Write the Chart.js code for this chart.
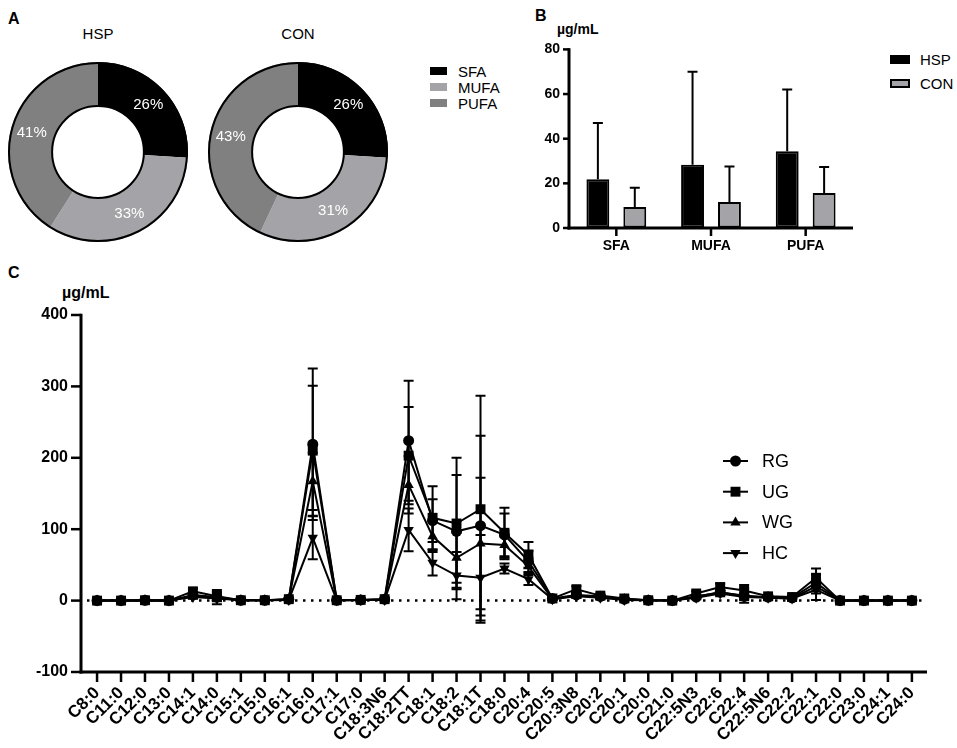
<!DOCTYPE html>
<html>
<head>
<meta charset="utf-8">
<script src="https://cdn.jsdelivr.net/npm/chart.js@4.4.1/dist/chart.umd.min.js"></script>
<style>
  body { margin: 0; background: #fff; width: 957px; height: 748px; position: relative; overflow: hidden;
         font-family: "Liberation Sans", Arial, sans-serif; color: #000; }
  .box { position: absolute; }
  .txt { position: absolute; white-space: nowrap; line-height: 1; }
  .letter { font-weight: bold; font-size: 16px; }
  .unit { font-weight: bold; }
  .sw { position: absolute; box-sizing: border-box; }
</style>
</head>
<body>
<div class="txt letter" style="left:8px;top:11px">A</div>
<div class="txt letter" style="left:535px;top:8px">B</div>
<div class="txt letter" style="left:8px;top:265px">C</div>

<div class="txt" id="titleHsp" style="left:58px;top:26px;width:80px;text-align:center;font-size:15px"></div>
<div class="txt" id="titleCon" style="left:258px;top:26px;width:80px;text-align:center;font-size:15px"></div>
<div id="legendA"></div>
<div id="legendB"></div>

<div class="txt unit" style="left:557px;top:22px;font-size:14px">µg/mL</div>
<div class="txt unit" style="left:62px;top:285px;font-size:16px">µg/mL</div>

<div class="box" style="left:7px;top:61px"><canvas id="pieHsp" width="182" height="182"></canvas></div>
<div class="box" style="left:207px;top:61px"><canvas id="pieCon" width="182" height="182"></canvas></div>
<div class="box" style="left:480px;top:38px"><canvas id="barChart" width="400" height="222"></canvas></div>
<div class="box" style="left:0px;top:300px"><canvas id="lineChart" width="957" height="448"></canvas></div>

<script>
// ---- panel A: composition (%)
const pieGroups = ['HSP', 'CON'];
const pieCategories = ['SFA', 'MUFA', 'PUFA'];
const hspShare = [26, 33, 41];
const conShare = [26, 31, 43];

// ---- panel B: totals (µg/mL), mean and SD
const barCategories = ['SFA', 'MUFA', 'PUFA'];
const barGroups = ['HSP', 'CON'];
const hspMean = [21.8, 28.3, 34.4];
const hspSd = [25.2, 41.7, 27.6];
const conMean = [9.4, 11.6, 15.7];
const conSd = [8.6, 15.9, 11.6];

// ---- panel C: individual fatty acids (µg/mL)
const fattyAcids = ['C8:0', 'C11:0', 'C12:0', 'C13:0', 'C14:1', 'C14:0', 'C15:1', 'C15:0', 'C16:1', 'C16:0',
  'C17:1', 'C17:0', 'C18:3N6', 'C18:2TT', 'C18:1', 'C18:2', 'C18:1T', 'C18:0', 'C20:4', 'C20:5',
  'C20:3N8', 'C20:2', 'C20:1', 'C20:0', 'C21:0', 'C22:5N3', 'C22:6', 'C22:4', 'C22:5N6', 'C22:2',
  'C22:1', 'C22:0', 'C23:0', 'C24:1', 'C24:0'];
const lineGroups = ['RG', 'UG', 'WG', 'HC'];
const rgMean = [0, 0, 0.5, 0, 8, 5, 0.5, 0.5, 2, 219, 0.5, 1, 2, 224, 112, 97, 105, 92, 55, 3,
  8, 6, 2, 0.5, 0, 5, 12, 6, 5, 4, 25, 0, 0, 0, 0];
const ugMean = [0, 0, 0.5, 0, 13, 6, 0.5, 0.5, 2, 210, 0.5, 1, 2, 203, 116, 108, 128, 95, 64, 3,
  16, 7, 3, 0.5, 0, 10, 19, 14, 6, 5, 32, 0, 0, 0, 0];
const wgMean = [0, 0, 0.5, 0, 6, 4, 0.5, 0.5, 1.5, 167, 0.5, 1, 1.5, 162, 90, 60, 80, 78, 48, 2,
  7, 5, 2, 0.5, 0, 6, 11, 7, 4, 3, 20, 0, 0, 0, 0];
const hcMean = [0, 0, 0.5, 0, 5, 3, 0.5, 0.5, 1, 88, 0.5, 1, 1, 99, 53, 35, 32, 45, 30, 2,
  6, 4, 1, 0.5, 0, 4, 10, 5, 4, 3, 15, 0, 0, 0, 0];
const rgSd = [0.5, 0.5, 0.5, 0.5, 3, 10, 0.5, 0.5, 1, 106, 0.5, 1, 1, 84, 30, 79, 126, 30, 15, 1,
  3, 2, 1, 0.5, 0.5, 2, 4, 4, 2, 2, 12, 0.5, 0.5, 0.5, 0.5];
const ugSd = [0.5, 0.5, 0.5, 0.5, 4, 6, 0.5, 0.5, 1, 91, 0.5, 1, 1, 68, 44, 92, 159, 35, 18, 1,
  4, 3, 1, 0.5, 0.5, 3, 5, 8, 2, 2, 13, 0.5, 0.5, 0.5, 0.5];
const wgSd = [0.5, 0.5, 0.5, 0.5, 3, 5, 0.5, 0.5, 1, 40, 0.5, 1, 1, 40, 22, 35, 92, 20, 12, 1,
  3, 2, 1, 0.5, 0.5, 2, 4, 10, 2, 2, 10, 0.5, 0.5, 0.5, 0.5];
const hcSd = [0.5, 0.5, 0.5, 0.5, 2, 3, 0.5, 0.5, 1, 30, 0.5, 1, 1, 30, 18, 33, 60, 7, 8, 1,
  2, 2, 1, 0.5, 0.5, 2, 4, 4, 2, 2, 14, 0.5, 0.5, 0.5, 0.5];

const FONT = '"Liberation Sans", Arial, sans-serif';
const pieColors = ['#000000', '#a4a4a8', '#808080'];
const barColors = ['#000000', '#a4a4a8'];

// small legends and titles as html text
document.getElementById('titleHsp').textContent = pieGroups[0];
document.getElementById('titleCon').textContent = pieGroups[1];

const legA = document.getElementById('legendA');
pieCategories.forEach((name, i) => {
  const top = 67 + i * 16;
  legA.innerHTML += `<div class="sw" style="left:430px;top:${top}px;width:17px;height:8px;background:${pieColors[i]}"></div>` +
    `<div class="txt" style="left:458px;top:${top - 3}px;font-size:15px">${name}</div>`;
});
const legB = document.getElementById('legendB');
barGroups.forEach((name, i) => {
  const top = 55 + i * 24;
  legB.innerHTML += `<div class="sw" style="left:890px;top:${top}px;width:20px;height:9px;background:${barColors[i]};border:2px solid #000"></div>` +
    `<div class="txt" style="left:920px;top:${top - 3}px;font-size:15px">${name}</div>`;
});

// ---- plugins
// percent labels plus the black outer / inner rim of the donut
const sliceLabels = {
  id: 'sliceLabels',
  afterDatasetsDraw(chart) {
    const ctx = chart.ctx;
    const ds = chart.data.datasets[0];
    const total = ds.data.reduce((a, b) => a + b, 0);
    const arcs = chart.getDatasetMeta(0).data;
    ctx.save();
    const p0 = arcs[0].getProps(['x', 'y', 'innerRadius', 'outerRadius']);
    ctx.strokeStyle = '#000';
    ctx.lineWidth = 2;
    ctx.beginPath();
    ctx.arc(p0.x, p0.y, p0.outerRadius - 1, 0, Math.PI * 2);
    ctx.stroke();
    ctx.beginPath();
    ctx.arc(p0.x, p0.y, p0.innerRadius, 0, Math.PI * 2);
    ctx.stroke();
    ctx.fillStyle = '#fff';
    ctx.font = '15px ' + FONT;
    ctx.textAlign = 'center';
    ctx.textBaseline = 'middle';
    arcs.forEach((arc, i) => {
      const p = arc.getProps(['x', 'y', 'startAngle', 'endAngle', 'innerRadius', 'outerRadius']);
      const a = (p.startAngle + p.endAngle) / 2;
      const r = (p.innerRadius + p.outerRadius) / 2 + 1;
      ctx.fillText(Math.round(ds.data[i] / total * 100) + '%', p.x + Math.cos(a) * r, p.y + Math.sin(a) * r);
    });
    ctx.restore();
  }
};

// Prism-like axes: thick black lines with outside tick marks at each scale tick
const axisFrame = {
  id: 'axisFrame',
  afterDraw(chart) {
    const { ctx, chartArea: a, scales: { x, y } } = chart;
    const xLen = x.options.grid.tickLength;
    const yLen = y.options.grid.tickLength;
    ctx.save();
    ctx.fillStyle = '#000';
    y.ticks.forEach((t, i) => {
      const py = y.getPixelForTick(i);
      ctx.fillRect(a.left - yLen, py - 1.25, yLen, 2.5);
    });
    x.ticks.forEach((t, i) => {
      const px = x.getPixelForTick(i);
      ctx.fillRect(px - 1.25, a.bottom, 2.5, xLen);
    });
    ctx.fillRect(a.left - 1.5, a.top - 1.25, 3, a.bottom - a.top + 2.75);
    ctx.fillRect(a.left - 1.5, a.bottom - 1.5, a.right - a.left + 1.5, 3);
    ctx.restore();
  }
};

const errorBars = {
  id: 'errorBars',
  afterDatasetsDraw(chart, args, opts) {
    const ctx = chart.ctx;
    const y = chart.scales.y;
    ctx.save();
    ctx.strokeStyle = '#000';
    ctx.lineWidth = 2;
    chart.data.datasets.forEach((ds, i) => {
      if (!ds.errors) return;
      chart.getDatasetMeta(i).data.forEach((pt, j) => {
        const raw = ds.data[j];
        const v = typeof raw === 'object' ? raw.y : raw;
        const e = ds.errors[j];
        const top = y.getPixelForValue(v + e);
        const bot = opts.upOnly ? pt.y : y.getPixelForValue(v - e);
        const c = opts.cap;
        ctx.beginPath();
        ctx.moveTo(pt.x, top); ctx.lineTo(pt.x, bot);
        ctx.moveTo(pt.x - c, top); ctx.lineTo(pt.x + c, top);
        if (!opts.upOnly) { ctx.moveTo(pt.x - c, bot); ctx.lineTo(pt.x + c, bot); }
        ctx.stroke();
      });
    });
    ctx.restore();
  }
};

const zeroLine = {
  id: 'zeroLine',
  beforeDatasetsDraw(chart) {
    const { ctx, chartArea: a } = chart;
    const yy = chart.scales.y.getPixelForValue(0);
    ctx.save();
    ctx.setLineDash([2.5, 5.5]);
    ctx.lineWidth = 2.5;
    ctx.strokeStyle = '#000';
    ctx.beginPath();
    ctx.moveTo(a.left + 6, yy);
    ctx.lineTo(a.right - 2, yy);
    ctx.stroke();
    ctx.restore();
  }
};

function drawMarker(ctx, style, rot, x, y, r) {
  ctx.beginPath();
  if (style === 'circle') {
    ctx.arc(x, y, r, 0, Math.PI * 2);
  } else if (style === 'rect') {
    const s = r * Math.SQRT1_2;
    ctx.rect(x - s, y - s, 2 * s, 2 * s);
  } else {
    const d = rot ? -1 : 1;
    ctx.moveTo(x, y - d * r);
    ctx.lineTo(x + r * 0.866, y + d * r * 0.5);
    ctx.lineTo(x - r * 0.866, y + d * r * 0.5);
    ctx.closePath();
  }
  ctx.fill();
}

const lineLegend = {
  id: 'lineLegend',
  afterDraw(chart, args, o) {
    const ctx = chart.ctx;
    ctx.save();
    ctx.fillStyle = '#000';
    ctx.strokeStyle = '#000';
    ctx.lineWidth = 2;
    ctx.font = '18px ' + FONT;
    ctx.textBaseline = 'middle';
    chart.data.datasets.forEach((ds, i) => {
      const y = o.top + i * o.gap;
      ctx.beginPath();
      ctx.moveTo(o.left, y); ctx.lineTo(o.left + 25, y);
      ctx.stroke();
      drawMarker(ctx, ds.pointStyle, ds.pointRotation || 0, o.left + 12.5, y, ds.pointRadius);
      ctx.fillText(ds.label, o.left + 39, y + 1);
    });
    ctx.restore();
  }
};

// ---- panel A
function makePie(id, values) {
  new Chart(document.getElementById(id), {
    type: 'doughnut',
    data: {
      labels: pieCategories,
      datasets: [{ data: values, backgroundColor: pieColors, borderWidth: 0 }]
    },
    options: {
      responsive: false,
      animation: false,
      cutout: '51%',
      layout: { padding: 1 },
      plugins: { legend: { display: false }, tooltip: { enabled: false } }
    },
    plugins: [sliceLabels]
  });
}
makePie('pieHsp', hspShare);
makePie('pieCon', conShare);

// the library keeps room for the ticks; axisFrame paints them
const axisOpts = (len, extra) => ({
  border: { display: false },
  grid: { display: true, drawOnChartArea: false, drawTicks: true, tickLength: len, tickColor: 'rgba(0,0,0,0)', ...extra }
});

// ---- panel B
new Chart(document.getElementById('barChart'), {
  type: 'bar',
  data: {
    labels: barCategories,
    datasets: [
      { label: barGroups[0], data: hspMean, errors: hspSd, backgroundColor: barColors[0], borderColor: '#000', borderWidth: 2 },
      { label: barGroups[1], data: conMean, errors: conSd, backgroundColor: barColors[1], borderColor: '#000', borderWidth: 2 }
    ]
  },
  options: {
    responsive: false,
    animation: false,
    layout: { padding: { top: 10, right: 27, left: 0, bottom: 0 } },
    datasets: { bar: { categoryPercentage: 0.78, barPercentage: 0.62, borderSkipped: false } },
    scales: {
      x: {
        ...axisOpts(8, { offset: false }),
        ticks: { color: '#000', font: { family: FONT, size: 14, weight: 'bold' }, padding: 2 },
        afterFit: (s) => { s.height = 32; }
      },
      y: {
        ...axisOpts(6),
        min: 0, max: 80,
        ticks: { stepSize: 20, color: '#000', font: { family: FONT, size: 14, weight: 'bold' }, padding: 3 },
        afterFit: (s) => { s.width = 89; }
      }
    },
    plugins: {
      legend: { display: false },
      tooltip: { enabled: false },
      errorBars: { cap: 5, upOnly: true }
    }
  },
  plugins: [errorBars, axisFrame]
});

// ---- panel C
const lineMeans = [rgMean, ugMean, wgMean, hcMean];
const lineSds = [rgSd, ugSd, wgSd, hcSd];
const markers = [
  { pointStyle: 'circle', pointRadius: 5.5, pointRotation: 0 },
  { pointStyle: 'rect', pointRadius: 7, pointRotation: 0 },
  { pointStyle: 'triangle', pointRadius: 6, pointRotation: 0 },
  { pointStyle: 'triangle', pointRadius: 6, pointRotation: 180 }
];

new Chart(document.getElementById('lineChart'), {
  type: 'line',
  data: {
    datasets: lineGroups.map((g, k) => ({
      label: g,
      data: lineMeans[k].map((v, i) => ({ x: i, y: v })),
      errors: lineSds[k],
      borderColor: '#000',
      backgroundColor: '#000',
      borderWidth: 2,
      pointBorderWidth: 0,
      tension: 0,
      ...markers[k]
    }))
  },
  options: {
    responsive: false,
    animation: false,
    layout: { padding: { top: 15, right: 30, left: 0, bottom: 0 } },
    scales: {
      x: {
        type: 'linear',
        ...axisOpts(10),
        min: -0.67, max: fattyAcids.length - 1 + 0.63,
        ticks: {
          stepSize: 1, includeBounds: false, autoSkip: false,
          minRotation: 45, maxRotation: 45, padding: 1,
          color: '#000', font: { family: FONT, size: 17, weight: 'bold' },
          callback: (v) => fattyAcids[v]
        },
        afterFit: (s) => { s.height = 76; }
      },
      y: {
        ...axisOpts(10),
        min: -100, max: 400,
        ticks: { stepSize: 100, color: '#000', font: { family: FONT, size: 16, weight: 'bold' }, padding: 3 },
        afterFit: (s) => { s.width = 81; }
      }
    },
    plugins: {
      legend: { display: false },
      tooltip: { enabled: false },
      errorBars: { cap: 5, upOnly: false },
      lineLegend: { left: 723, top: 161, gap: 30.7 }
    }
  },
  plugins: [zeroLine, errorBars, lineLegend, axisFrame]
});
</script>
</body>
</html>
